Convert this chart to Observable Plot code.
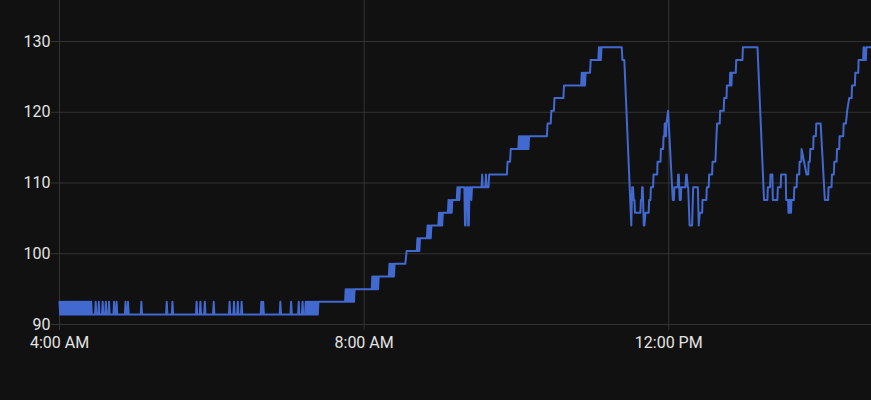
<!DOCTYPE html>
<html>
<head>
<meta charset="utf-8">
<script src="https://cdn.jsdelivr.net/npm/d3@7"></script>
<script src="https://cdn.jsdelivr.net/npm/@observablehq/plot@0.6"></script>
<style>
  html, body { margin: 0; padding: 0; background: #111111; }
  #chart { width: 871px; height: 400px; }
</style>
</head>
<body>
<div id="chart"></div>
<script>
// Temperature readings (°F) — [time of day, value]
const nightReadings = [
  ["04:00:00", 93.2], ["04:00:30", 91.4], ["04:01:00", 93.2], ["04:01:30", 91.4], ["04:02:00", 93.2], ["04:02:30", 91.4],
  ["04:03:00", 93.2], ["04:03:30", 91.4], ["04:04:00", 93.2], ["04:04:30", 91.4], ["04:05:00", 93.2], ["04:05:30", 91.4],
  ["04:06:00", 93.2], ["04:06:30", 91.4], ["04:07:00", 93.2], ["04:07:30", 91.4], ["04:08:00", 93.2], ["04:08:30", 91.4],
  ["04:09:00", 93.2], ["04:09:30", 91.4], ["04:10:00", 93.2], ["04:10:30", 91.4], ["04:11:00", 93.2], ["04:11:30", 91.4],
  ["04:12:00", 93.2], ["04:12:30", 91.4], ["04:13:00", 93.2], ["04:13:30", 91.4], ["04:14:00", 93.2], ["04:14:30", 91.4],
  ["04:15:00", 93.2], ["04:15:30", 91.4], ["04:16:00", 93.2], ["04:16:30", 91.4], ["04:17:00", 93.2], ["04:17:30", 91.4],
  ["04:18:00", 93.2], ["04:18:30", 91.4], ["04:19:00", 93.2], ["04:19:30", 91.4], ["04:20:00", 93.2], ["04:20:30", 91.4],
  ["04:21:00", 93.2], ["04:21:30", 91.4], ["04:22:00", 93.2], ["04:22:30", 91.4], ["04:23:00", 93.2], ["04:23:30", 91.4],
  ["04:24:00", 93.2], ["04:24:30", 91.4], ["04:25:00", 93.2], ["04:25:30", 91.4],
  ["04:28:00", 91.4], ["04:28:30", 93.2], ["04:29:00", 91.4],
  ["04:30:30", 91.4], ["04:31:00", 93.2], ["04:31:30", 91.4],
  ["04:33:30", 91.4], ["04:34:00", 93.2], ["04:34:30", 91.4],
  ["04:36:00", 91.4], ["04:36:30", 93.2], ["04:37:00", 91.4],
  ["04:38:30", 91.4], ["04:39:00", 93.2], ["04:39:30", 91.4],
  ["04:42:30", 91.4], ["04:43:00", 93.2], ["04:43:30", 91.4],
  ["04:44:30", 91.4], ["04:45:00", 93.2], ["04:45:30", 91.4],
  ["04:51:30", 91.4], ["04:52:00", 93.2], ["04:52:30", 91.4],
  ["04:53:30", 91.4], ["04:54:00", 93.2], ["04:54:30", 91.4],
  ["05:04:00", 91.4], ["05:04:30", 93.2], ["05:05:00", 91.4],
  ["05:24:00", 91.4], ["05:24:30", 93.2], ["05:25:00", 91.4],
  ["05:28:30", 91.4], ["05:29:00", 93.2], ["05:29:30", 91.4],
  ["05:47:30", 91.4], ["05:48:00", 93.2], ["05:48:30", 91.4],
  ["05:50:30", 91.4], ["05:51:00", 93.2], ["05:51:30", 91.4],
  ["05:54:00", 91.4], ["05:54:30", 93.2], ["05:55:00", 91.4],
  ["06:01:00", 91.4], ["06:01:30", 93.2], ["06:02:00", 91.4],
  ["06:13:30", 91.4], ["06:14:00", 93.2], ["06:14:30", 91.4],
  ["06:17:00", 91.4], ["06:17:30", 93.2], ["06:18:00", 91.4],
  ["06:20:00", 91.4], ["06:20:30", 93.2], ["06:21:00", 91.4],
  ["06:23:00", 91.4], ["06:23:30", 93.2], ["06:24:00", 91.4],
  ["06:38:30", 91.4], ["06:39:00", 93.2], ["06:39:30", 91.4],
  ["06:40:00", 91.4], ["06:40:30", 93.2], ["06:41:00", 91.4],
  ["06:53:30", 91.4], ["06:54:00", 93.2], ["06:54:30", 91.4],
  ["07:02:00", 91.4], ["07:02:30", 93.2], ["07:03:00", 91.4],
  ["07:08:00", 91.4], ["07:08:30", 93.2], ["07:09:00", 91.4],
  ["07:11:00", 91.4], ["07:11:30", 93.2], ["07:12:00", 91.4],
  ["07:13:30", 91.4], ["07:14:00", 93.2], ["07:14:30", 91.4], ["07:15:00", 93.2], ["07:15:30", 91.4], ["07:16:00", 93.2],
  ["07:16:30", 91.4], ["07:17:00", 93.2], ["07:17:30", 91.4], ["07:18:00", 93.2], ["07:18:30", 91.4], ["07:19:00", 93.2],
  ["07:19:30", 91.4], ["07:20:00", 93.2], ["07:20:30", 91.4], ["07:21:00", 93.2], ["07:21:30", 91.4], ["07:22:00", 93.2],
  ["07:22:30", 91.4], ["07:23:00", 93.2], ["07:23:30", 91.4], ["07:24:00", 93.2]
];

const morningReadings = [
  ["07:45:00", 93.2], ["07:45:30", 95], ["07:46:00", 93.2], ["07:46:30", 95], ["07:47:00", 93.2], ["07:47:30", 95],
  ["07:48:00", 93.2], ["07:48:30", 95], ["07:49:00", 93.2], ["07:49:30", 95], ["07:50:00", 93.2], ["07:50:30", 95],
  ["07:51:00", 93.2], ["07:51:30", 95], ["07:52:00", 93.2], ["07:52:30", 95],
  ["08:06:00", 95], ["08:06:30", 96.8], ["08:07:00", 95], ["08:07:30", 96.8], ["08:08:00", 95], ["08:08:30", 96.8],
  ["08:09:00", 95], ["08:09:30", 96.8], ["08:10:00", 95], ["08:10:30", 96.8], ["08:11:00", 95], ["08:11:30", 96.8],
  ["08:19:30", 96.8], ["08:20:00", 98.6], ["08:20:30", 96.8], ["08:21:00", 98.6], ["08:21:30", 96.8], ["08:22:00", 98.6],
  ["08:22:30", 96.8], ["08:23:00", 98.6], ["08:23:30", 96.8], ["08:24:00", 98.6],
  ["08:32:30", 98.6], ["08:33:30", 100.4],
  ["08:41:30", 100.4], ["08:42:00", 102.2], ["08:42:30", 100.4], ["08:43:00", 102.2], ["08:43:30", 100.4], ["08:44:00", 102.2],
  ["08:49:30", 102.2], ["08:50:00", 104], ["08:50:30", 102.2], ["08:51:00", 104], ["08:51:30", 102.2], ["08:52:00", 104],
  ["08:52:30", 102.2], ["08:53:00", 104],
  ["08:58:30", 104], ["08:59:00", 105.8], ["08:59:30", 104], ["09:00:00", 105.8], ["09:00:30", 104], ["09:01:00", 105.8],
  ["09:01:30", 104], ["09:02:00", 105.8],
  ["09:06:00", 105.8], ["09:06:30", 107.6], ["09:07:00", 105.8], ["09:07:30", 107.6], ["09:08:00", 105.8], ["09:08:30", 107.6],
  ["09:09:00", 105.8], ["09:09:30", 107.6],
  ["09:13:00", 107.6], ["09:13:30", 109.4], ["09:14:00", 107.6], ["09:14:30", 109.4], ["09:15:00", 107.6], ["09:15:30", 109.4],
  ["09:19:00", 109.4], ["09:19:30", 104], ["09:20:00", 104], ["09:20:30", 109.4],
  ["09:21:30", 109.4], ["09:22:00", 104], ["09:22:30", 104], ["09:23:00", 109.4],
  ["09:24:00", 109.4], ["09:24:30", 107.6], ["09:25:00", 109.4],
  ["09:32:30", 109.4], ["09:33:00", 111.2], ["09:33:30", 109.4],
  ["09:35:30", 109.4], ["09:36:00", 111.2], ["09:36:30", 109.4],
  ["09:38:00", 109.4], ["09:38:30", 111.2],
  ["09:52:30", 111.2], ["09:53:00", 113], ["09:55:00", 113], ["09:55:30", 114.8],
  ["10:01:30", 114.8], ["10:02:00", 116.6], ["10:02:30", 114.8], ["10:03:00", 116.6], ["10:03:30", 114.8], ["10:04:00", 116.6],
  ["10:04:30", 114.8], ["10:05:00", 116.6], ["10:05:30", 114.8], ["10:06:00", 116.6], ["10:06:30", 114.8], ["10:07:00", 116.6],
  ["10:07:30", 114.8], ["10:08:00", 116.6], ["10:08:30", 114.8], ["10:09:00", 116.6], ["10:09:30", 114.8], ["10:10:00", 116.6],
  ["10:24:00", 116.6], ["10:24:30", 118.4], ["10:27:00", 118.4], ["10:27:30", 120.2],
  ["10:29:30", 120.2], ["10:30:00", 122], ["10:37:00", 122], ["10:37:30", 123.8],
  ["10:51:00", 123.8], ["10:51:30", 125.6], ["10:52:00", 123.8], ["10:52:30", 125.6], ["10:53:00", 123.8], ["10:53:30", 125.6],
  ["10:54:00", 123.8], ["10:54:30", 125.6],
  ["10:58:00", 125.6], ["10:58:30", 127.4],
  ["11:04:30", 127.4], ["11:05:00", 129.2], ["11:05:30", 127.4], ["11:06:00", 129.2], ["11:06:30", 127.4], ["11:07:00", 129.2],
  ["11:23:00", 129.2], ["11:23:30", 127.4], ["11:25:00", 127.4]
];

const afternoonReadings = [
  ["11:30:30", 104], ["11:31:10", 109.4], ["11:31:50", 109.4], ["11:32:25", 107.6], ["11:33:00", 107.6], ["11:33:25", 105.8],
  ["11:37:40", 105.8], ["11:38:05", 107.6], ["11:38:45", 107.6], ["11:39:00", 109.4], ["11:39:30", 109.4], ["11:40:20", 104],
  ["11:40:50", 104], ["11:41:40", 105.8], ["11:44:10", 105.8], ["11:44:35", 107.6], ["11:45:35", 107.6], ["11:45:55", 109.4],
  ["11:47:40", 109.4], ["11:48:00", 111.2], ["11:50:55", 111.2], ["11:51:10", 113], ["11:53:30", 113], ["11:53:50", 114.8],
  ["11:55:35", 114.8], ["11:55:55", 116.6], ["11:56:30", 116.6], ["11:56:50", 118.4], ["11:57:10", 116.6], ["11:57:30", 118.4],
  ["11:57:50", 116.6], ["11:58:10", 118.4], ["11:59:30", 120.2],
  ["12:03:10", 107.6], ["12:04:05", 107.6], ["12:04:25", 109.4], ["12:07:05", 109.4], ["12:07:25", 111.2], ["12:07:55", 111.2],
  ["12:08:40", 107.6], ["12:09:30", 107.6], ["12:09:50", 109.4], ["12:13:10", 109.4], ["12:13:45", 111.2], ["12:14:10", 111.2],
  ["12:15:00", 109.4], ["12:15:20", 109.4], ["12:16:25", 104], ["12:18:25", 104], ["12:19:15", 109.4], ["12:22:55", 109.4],
  ["12:23:40", 104], ["12:24:25", 105.8], ["12:26:20", 105.8], ["12:26:35", 107.6], ["12:29:40", 107.6], ["12:30:00", 109.4],
  ["12:31:30", 109.4], ["12:31:50", 111.2], ["12:34:10", 111.2], ["12:34:30", 113], ["12:36:45", 113], ["12:37:10", 114.8],
  ["12:37:35", 116.6], ["12:38:05", 118.4], ["12:40:10", 118.4], ["12:40:30", 120.2], ["12:43:20", 120.2], ["12:43:40", 122],
  ["12:45:30", 122], ["12:45:50", 123.8], ["12:48:05", 123.8], ["12:48:25", 125.6], ["12:48:45", 123.8], ["12:49:05", 125.6],
  ["12:49:25", 123.8], ["12:49:45", 125.6], ["12:52:50", 125.6], ["12:53:10", 127.4], ["12:58:05", 127.4], ["12:58:25", 129.2],
  ["13:09:55", 129.2], ["13:15:05", 107.6], ["13:17:45", 107.6], ["13:18:05", 109.4], ["13:19:50", 109.4], ["13:20:10", 111.2],
  ["13:21:40", 111.2], ["13:22:00", 107.6], ["13:25:35", 107.6], ["13:26:00", 109.4], ["13:28:15", 109.4], ["13:28:30", 111.2],
  ["13:32:10", 111.2], ["13:32:30", 107.6], ["13:34:00", 107.6], ["13:34:20", 105.8], ["13:34:40", 107.6], ["13:35:00", 105.8],
  ["13:35:20", 107.6], ["13:35:40", 105.8], ["13:36:00", 107.6], ["13:36:20", 105.8], ["13:36:40", 107.6], ["13:38:35", 107.6],
  ["13:38:55", 109.4], ["13:40:45", 109.4], ["13:41:05", 111.2], ["13:42:50", 111.2], ["13:43:05", 113], ["13:44:25", 113],
  ["13:44:40", 114.8], ["13:48:35", 111.2], ["13:49:55", 111.2], ["13:50:10", 113], ["13:51:10", 113], ["13:51:30", 114.8],
  ["13:53:50", 114.8], ["13:54:05", 116.6], ["13:55:55", 116.6], ["13:56:15", 118.4], ["13:59:40", 118.4], ["14:03:00", 107.6],
  ["14:05:35", 107.6], ["14:05:55", 109.4], ["14:08:15", 109.4], ["14:08:35", 111.2], ["14:10:05", 111.2], ["14:10:25", 113],
  ["14:12:15", 113], ["14:12:35", 114.8], ["14:14:20", 114.8], ["14:14:35", 116.6], ["14:17:30", 116.6], ["14:17:50", 118.4],
  ["14:19:35", 118.4], ["14:20:35", 120.2], ["14:22:10", 122], ["14:24:05", 122], ["14:24:25", 123.8], ["14:26:40", 123.8],
  ["14:27:00", 125.6], ["14:29:20", 125.6], ["14:29:35", 127.4], ["14:33:10", 127.4], ["14:33:30", 129.2], ["14:34:00", 129.2],
  ["14:34:20", 127.4], ["14:35:20", 127.4], ["14:35:40", 129.2], ["14:39:45", 129.2]
];

const yTicks = [90, 100, 110, 120, 130];
const xTickTimes = ["04:00:00", "08:00:00", "12:00:00"];
const xDomainTimes = ["04:00:00", "14:39:45"];
const yDomain = [90, 135.8];

const parse = d3.timeParse("%H:%M:%S");
const fmt = d3.timeFormat("%-I:%M %p");
const data = [...nightReadings, ...morningReadings, ...afternoonReadings]
  .map(([t, v]) => ({time: parse(t), temp: v}));
const xTicks = xTickTimes.map(parse);

const gridColor = "#333333";
const chart = Plot.plot({
  width: 871,
  height: 400,
  marginLeft: 59,
  marginRight: 0,
  marginTop: 0,
  marginBottom: 76,
  style: {background: "#111111", color: "#e3e3e3", fontFamily: "Roboto, sans-serif", fontSize: "16px"},
  x: {domain: xDomainTimes.map(parse)},
  y: {domain: yDomain},
  marks: [
    Plot.gridX(xTicks, {stroke: gridColor, strokeOpacity: 1}),
    Plot.gridY(yTicks, {stroke: gridColor, strokeOpacity: 1}),
    Plot.axisX(xTicks, {tickSize: 6, tickPadding: 6, stroke: gridColor, strokeOpacity: 1, tickFormat: fmt, fontSize: 16, label: null}),
    Plot.axisY(yTicks, {tickSize: 8, tickPadding: 1, stroke: gridColor, strokeOpacity: 1, fontSize: 16, label: null}),
    Plot.line(data, {x: "time", y: "temp", stroke: "#4269d0", strokeWidth: 2, curve: "linear"})
  ]
});
document.getElementById("chart").appendChild(chart);
</script>
</body>
</html>
